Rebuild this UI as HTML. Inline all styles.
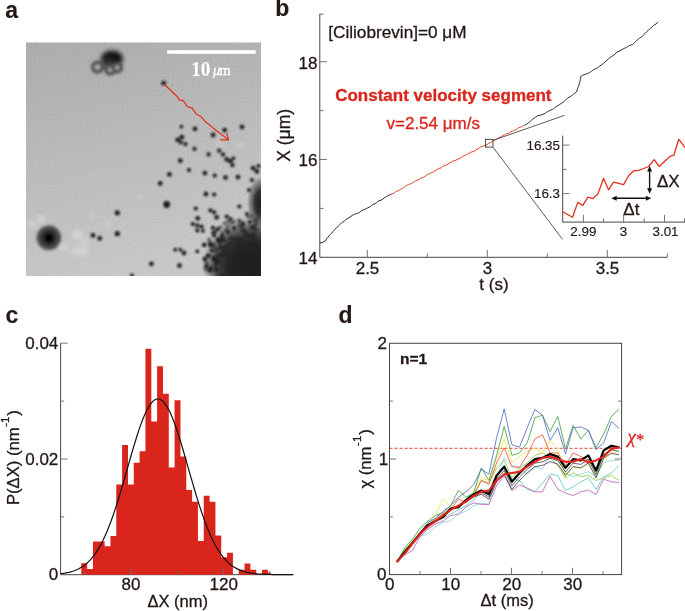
<!DOCTYPE html>
<html><head><meta charset="utf-8"><title>figure</title>
<style>
html,body{margin:0;padding:0;background:#fff;}
body{width:685px;height:611px;overflow:hidden;}
svg{display:block;}
text{font-family:"Liberation Sans",sans-serif;fill:#231815;stroke:#231815;stroke-width:0.3px;}
.b{font-weight:bold;}
.lab{font-size:23px;font-weight:bold;stroke-width:0.15px;}
.tk{font-size:17px;}
.tks{font-size:13.4px;stroke-width:0.15px;}
.ax{stroke:#484443;stroke-width:1;fill:none;}
.tl{stroke:#6a6665;stroke-width:0.9;fill:none;}
.ser{font-family:"Liberation Serif",serif;}
</style></head><body>
<svg width="685" height="611" viewBox="0 0 685 611">
<defs>
<linearGradient id="bg" x1="0" y1="0" x2="0.25" y2="1">
<stop offset="0" stop-color="#acacac"/><stop offset="0.45" stop-color="#b9b9b9"/><stop offset="1" stop-color="#c7c7c7"/>
</linearGradient>
<filter id="bl1" x="-50%" y="-50%" width="200%" height="200%"><feGaussianBlur stdDeviation="0.9"/></filter>
<filter id="bl2" x="-50%" y="-50%" width="200%" height="200%"><feGaussianBlur stdDeviation="2"/></filter>
<filter id="bl3" x="-50%" y="-50%" width="200%" height="200%"><feGaussianBlur stdDeviation="3.5"/></filter>
<filter id="grain" x="0" y="0" width="100%" height="100%"><feTurbulence type="fractalNoise" baseFrequency="0.9" numOctaves="2" seed="3" result="n"/><feColorMatrix type="matrix" values="0 0 0 0 0.5  0 0 0 0 0.5  0 0 0 0 0.5  0.6 0.6 0.6 0 -0.75"/></filter>
<filter id="bl15" x="-50%" y="-50%" width="200%" height="200%"><feGaussianBlur stdDeviation="1.7"/></filter>
<radialGradient id="rg1"><stop offset="0" stop-color="#1c1c1c" stop-opacity="1"/><stop offset="0.45" stop-color="#242424" stop-opacity="1"/><stop offset="0.62" stop-color="#303030" stop-opacity="0.96"/><stop offset="0.78" stop-color="#404040" stop-opacity="0.72"/><stop offset="0.92" stop-color="#505050" stop-opacity="0.25"/><stop offset="1" stop-color="#505050" stop-opacity="0"/></radialGradient>
<radialGradient id="rg2"><stop offset="0" stop-color="#1c1c1c" stop-opacity="1"/><stop offset="0.45" stop-color="#2a2a2a" stop-opacity="0.95"/><stop offset="0.8" stop-color="#444" stop-opacity="0.45"/><stop offset="1" stop-color="#444" stop-opacity="0"/></radialGradient>
<filter id="grain2" x="0" y="0" width="100%" height="100%"><feTurbulence type="fractalNoise" baseFrequency="0.75" numOctaves="1" seed="3" result="n"/><feColorMatrix in="n" type="matrix" values="0.33 0.33 0.33 0 0  0.33 0.33 0.33 0 0  0.33 0.33 0.33 0 0  0 0 0 0 1" result="g"/><feComposite in="SourceGraphic" in2="g" operator="arithmetic" k1="0" k2="1" k3="0.28" k4="-0.14"/></filter>
<clipPath id="ca"><rect x="26" y="42.8" width="234.7" height="232.8"/></clipPath>
<clipPath id="cb"><rect x="319.8" y="10" width="365.2" height="247.5"/></clipPath>
</defs>

<g opacity="0.999">
<text class="lab" x="5.2" y="17.9">a</text>
<g clip-path="url(#ca)"><g>
<rect x="26" y="42.8" width="234.7" height="232.8" fill="url(#bg)" filter="url(#grain2)"/>
<circle cx="250" cy="265" r="48" fill="url(#rg1)"/>
<ellipse cx="261" cy="203" rx="14" ry="27" fill="url(#rg2)"/>
<g filter="url(#bl1)">
<circle cx="252.1" cy="227.9" r="2.1" fill="#242424" opacity="0.75"/>
<circle cx="218.3" cy="261.6" r="2.1" fill="#242424" opacity="0.75"/>
<circle cx="210.7" cy="271.0" r="2.1" fill="#242424" opacity="0.60"/>
<circle cx="253.5" cy="234.0" r="2.1" fill="#242424" opacity="0.75"/>
<circle cx="215.3" cy="231.9" r="2.1" fill="#242424" opacity="0.60"/>
<circle cx="223.3" cy="276.5" r="2.1" fill="#242424" opacity="0.75"/>
<circle cx="257.1" cy="218.6" r="2.1" fill="#242424" opacity="0.60"/>
<circle cx="233.3" cy="238.7" r="2.1" fill="#242424" opacity="0.75"/>
<circle cx="213.4" cy="232.3" r="2.1" fill="#242424" opacity="0.60"/>
<circle cx="208.1" cy="270.7" r="2.1" fill="#242424" opacity="0.60"/>
<circle cx="224.6" cy="223.6" r="2.1" fill="#242424" opacity="0.60"/>
<circle cx="223.4" cy="251.2" r="2.1" fill="#242424" opacity="0.75"/>
<circle cx="240.6" cy="239.1" r="2.1" fill="#242424" opacity="0.75"/>
<circle cx="218.7" cy="239.3" r="2.1" fill="#242424" opacity="0.60"/>
<circle cx="256.1" cy="223.2" r="2.1" fill="#242424" opacity="0.60"/>
<circle cx="221.7" cy="247.2" r="2.1" fill="#242424" opacity="0.75"/>
<circle cx="219.8" cy="242.7" r="2.1" fill="#242424" opacity="0.75"/>
<circle cx="254.2" cy="220.3" r="2.1" fill="#242424" opacity="0.60"/>
<circle cx="214.3" cy="247.2" r="2.1" fill="#242424" opacity="0.60"/>
<circle cx="253.4" cy="238.1" r="2.1" fill="#242424" opacity="0.75"/>
<circle cx="227.9" cy="221.3" r="2.1" fill="#242424" opacity="0.60"/>
<circle cx="228.0" cy="226.7" r="2.1" fill="#242424" opacity="0.60"/>
<circle cx="220.4" cy="247.3" r="2.1" fill="#242424" opacity="0.75"/>
<circle cx="205.5" cy="268.8" r="2.1" fill="#242424" opacity="0.60"/>
<circle cx="240.6" cy="222.1" r="2.1" fill="#242424" opacity="0.60"/>
<circle cx="251.5" cy="216.3" r="2.1" fill="#242424" opacity="0.60"/>
<circle cx="244.6" cy="231.2" r="2.1" fill="#242424" opacity="0.75"/>
<circle cx="209.0" cy="239.7" r="2.1" fill="#242424" opacity="0.60"/>
<circle cx="216.9" cy="270.2" r="2.1" fill="#242424" opacity="0.75"/>
<circle cx="225.6" cy="247.1" r="2.1" fill="#242424" opacity="0.75"/>
<circle cx="246.7" cy="235.6" r="2.1" fill="#242424" opacity="0.75"/>
<circle cx="239.4" cy="240.0" r="2.1" fill="#242424" opacity="0.75"/>
<circle cx="220.0" cy="254.9" r="2.1" fill="#242424" opacity="0.75"/>
<circle cx="214.3" cy="259.5" r="2.1" fill="#242424" opacity="0.75"/>
<circle cx="248.3" cy="217.0" r="2.1" fill="#242424" opacity="0.60"/>
<circle cx="251.7" cy="227.2" r="2.1" fill="#242424" opacity="0.75"/>
<circle cx="242.4" cy="229.4" r="2.1" fill="#242424" opacity="0.75"/>
<circle cx="233.8" cy="221.7" r="2.1" fill="#242424" opacity="0.60"/>
<circle cx="222.0" cy="241.0" r="2.1" fill="#242424" opacity="0.75"/>
<circle cx="206.5" cy="263.2" r="2.1" fill="#242424" opacity="0.60"/>
<circle cx="217.1" cy="262.6" r="2.1" fill="#242424" opacity="0.75"/>
<circle cx="222.1" cy="255.4" r="2.1" fill="#242424" opacity="0.75"/>
<circle cx="204.7" cy="244.5" r="2.1" fill="#242424" opacity="0.60"/>
<circle cx="215.9" cy="264.9" r="2.1" fill="#242424" opacity="0.75"/>
<circle cx="245.1" cy="232.8" r="2.1" fill="#242424" opacity="0.75"/>
<circle cx="210.2" cy="244.3" r="2.1" fill="#242424" opacity="0.60"/>
<circle cx="211.8" cy="245.5" r="2.1" fill="#242424" opacity="0.60"/>
<circle cx="222.6" cy="239.1" r="2.1" fill="#242424" opacity="0.75"/>
<circle cx="213.1" cy="233.2" r="2.1" fill="#242424" opacity="0.60"/>
<circle cx="254.6" cy="226.1" r="2.1" fill="#242424" opacity="0.60"/>
<circle cx="222.6" cy="233.0" r="2.1" fill="#242424" opacity="0.60"/>
<circle cx="204.8" cy="259.2" r="2.1" fill="#242424" opacity="0.60"/>
<circle cx="214.1" cy="244.2" r="2.1" fill="#242424" opacity="0.60"/>
<circle cx="209.8" cy="242.1" r="2.1" fill="#242424" opacity="0.60"/>
<circle cx="211.4" cy="267.4" r="2.1" fill="#242424" opacity="0.60"/>
<circle cx="231.3" cy="222.9" r="2.1" fill="#242424" opacity="0.60"/>
<circle cx="251.8" cy="235.2" r="2.1" fill="#242424" opacity="0.75"/>
<circle cx="209.3" cy="256.6" r="2.1" fill="#242424" opacity="0.60"/>
<circle cx="226.0" cy="230.0" r="2.1" fill="#242424" opacity="0.60"/>
<circle cx="225.7" cy="276.8" r="2.1" fill="#242424" opacity="0.75"/>
<circle cx="218.7" cy="261.9" r="2.1" fill="#242424" opacity="0.75"/>
<circle cx="249.1" cy="235.8" r="2.1" fill="#242424" opacity="0.75"/>
<circle cx="225.5" cy="247.1" r="2.1" fill="#242424" opacity="0.75"/>
<circle cx="236.9" cy="241.6" r="2.1" fill="#242424" opacity="0.75"/>
<circle cx="215.1" cy="260.8" r="2.1" fill="#242424" opacity="0.75"/>
<circle cx="220.6" cy="227.5" r="2.1" fill="#242424" opacity="0.60"/>
<circle cx="255.5" cy="229.7" r="2.1" fill="#242424" opacity="0.75"/>
<circle cx="224.2" cy="240.2" r="2.1" fill="#242424" opacity="0.75"/>
<circle cx="239.1" cy="220.4" r="2.1" fill="#242424" opacity="0.60"/>
<circle cx="225.6" cy="253.7" r="2.1" fill="#242424" opacity="0.75"/>
<circle cx="223.9" cy="275.8" r="2.1" fill="#242424" opacity="0.75"/>
<circle cx="216.3" cy="270.3" r="2.1" fill="#242424" opacity="0.75"/>
<circle cx="223.5" cy="252.2" r="2.1" fill="#242424" opacity="0.75"/>
<circle cx="241.5" cy="226.3" r="2.1" fill="#242424" opacity="0.60"/>
<circle cx="222.9" cy="276.4" r="2.1" fill="#242424" opacity="0.75"/>
<circle cx="216.9" cy="249.9" r="2.1" fill="#242424" opacity="0.75"/>
<circle cx="230.7" cy="238.2" r="2.1" fill="#242424" opacity="0.75"/>
<circle cx="219.5" cy="275.5" r="2.1" fill="#242424" opacity="0.75"/>
<circle cx="217.8" cy="255.3" r="2.1" fill="#242424" opacity="0.75"/>
<circle cx="222.3" cy="239.8" r="2.1" fill="#242424" opacity="0.75"/>
<circle cx="239.3" cy="225.5" r="2.1" fill="#242424" opacity="0.60"/>
<circle cx="217.6" cy="258.6" r="2.1" fill="#242424" opacity="0.75"/>
<circle cx="254.3" cy="226.5" r="2.1" fill="#242424" opacity="0.60"/>
<circle cx="215.6" cy="230.9" r="2.1" fill="#242424" opacity="0.60"/>
<circle cx="229.4" cy="243.6" r="2.1" fill="#242424" opacity="0.75"/>
<circle cx="216.2" cy="268.9" r="2.1" fill="#242424" opacity="0.75"/>
<circle cx="220.4" cy="240.0" r="2.1" fill="#242424" opacity="0.60"/>
<circle cx="215.6" cy="260.7" r="2.1" fill="#242424" opacity="0.75"/>
</g>
<g filter="url(#bl2)">
</g><g filter="url(#bl15)">
<circle cx="48.9" cy="237.8" r="12.2" fill="#484848"/>
<circle cx="48.9" cy="237.8" r="8" fill="#2a2a2a"/>
<circle cx="48.9" cy="238" r="4.5" fill="#050505"/>
</g><g filter="url(#bl2)">
<circle cx="41.7" cy="219.0" r="4.5" fill="#e2e2e2" opacity="0.5"/>
<circle cx="32.0" cy="224.0" r="4.0" fill="#e2e2e2" opacity="0.5"/>
<circle cx="77.0" cy="234.3" r="5.5" fill="#e2e2e2" opacity="0.5"/>
<circle cx="75.4" cy="251.2" r="4.5" fill="#e2e2e2" opacity="0.5"/>
<circle cx="83.4" cy="251.2" r="4.5" fill="#e2e2e2" opacity="0.5"/>
<circle cx="64.0" cy="247.0" r="4.0" fill="#e2e2e2" opacity="0.5"/>
<circle cx="84.0" cy="242.0" r="4.0" fill="#e2e2e2" opacity="0.5"/>
<circle cx="91.7" cy="215.8" r="2.5" fill="#e2e2e2" opacity="0.5"/>
<circle cx="108.0" cy="224.6" r="3.0" fill="#e2e2e2" opacity="0.5"/>
<circle cx="140.0" cy="197.0" r="2.5" fill="#e2e2e2" opacity="0.5"/>
<circle cx="240.5" cy="146.0" r="2.8" fill="#e2e2e2" opacity="0.5"/>
<circle cx="219.0" cy="144.5" r="2.5" fill="#e2e2e2" opacity="0.5"/>
</g>
<g filter="url(#bl2)">
<ellipse cx="112" cy="58.6" rx="11" ry="8" fill="#161616"/>
<ellipse cx="107" cy="64" rx="9" ry="5" fill="#3a3a3a" opacity="0.7"/>
</g>
<g filter="url(#bl15)">
<circle cx="97.5" cy="67.1" r="4.6" fill="#b0b0b0" stroke="#484848" stroke-width="3.6"/>
<circle cx="110.2" cy="69.8" r="4.0" fill="#b0b0b0" stroke="#484848" stroke-width="3.6"/>
<circle cx="117.2" cy="67.6" r="4.0" fill="#b0b0b0" stroke="#484848" stroke-width="3.6"/>
</g>
<g filter="url(#bl1)">
<circle cx="163.6" cy="83.2" r="2.4" fill="#161616" opacity="0.95"/>
<circle cx="181.4" cy="126.6" r="1.9" fill="#161616" opacity="0.95"/>
<circle cx="195.0" cy="128.8" r="2.4" fill="#161616" opacity="0.95"/>
<circle cx="213.1" cy="135.0" r="2.4" fill="#161616" opacity="0.95"/>
<circle cx="224.7" cy="130.1" r="2.4" fill="#161616" opacity="0.95"/>
<circle cx="242.0" cy="126.9" r="2.4" fill="#161616" opacity="0.95"/>
<circle cx="181.8" cy="137.2" r="2.4" fill="#161616" opacity="0.95"/>
<circle cx="177.7" cy="139.8" r="2.4" fill="#161616" opacity="0.95"/>
<circle cx="180.9" cy="142.3" r="2.1" fill="#161616" opacity="0.95"/>
<circle cx="185.5" cy="144.0" r="2.1" fill="#161616" opacity="0.95"/>
<circle cx="194.5" cy="148.8" r="2.1" fill="#161616" opacity="0.95"/>
<circle cx="208.6" cy="154.4" r="2.1" fill="#161616" opacity="0.95"/>
<circle cx="180.3" cy="160.7" r="2.4" fill="#161616" opacity="0.95"/>
<circle cx="219.2" cy="150.7" r="2.1" fill="#161616" opacity="0.95"/>
<circle cx="223.0" cy="154.4" r="2.1" fill="#161616" opacity="0.95"/>
<circle cx="226.7" cy="159.4" r="2.4" fill="#161616" opacity="0.95"/>
<circle cx="230.5" cy="161.2" r="2.4" fill="#161616" opacity="0.95"/>
<circle cx="232.5" cy="165.2" r="2.1" fill="#161616" opacity="0.95"/>
<circle cx="233.5" cy="158.2" r="1.9" fill="#161616" opacity="0.95"/>
<circle cx="253.1" cy="168.2" r="2.4" fill="#161616" opacity="0.95"/>
<circle cx="256.9" cy="171.4" r="2.4" fill="#161616" opacity="0.95"/>
<circle cx="258.5" cy="166.0" r="2.1" fill="#161616" opacity="0.95"/>
<circle cx="189.0" cy="170.1" r="2.1" fill="#161616" opacity="0.95"/>
<circle cx="169.4" cy="174.4" r="2.4" fill="#161616" opacity="0.95"/>
<circle cx="160.2" cy="183.4" r="2.4" fill="#161616" opacity="0.95"/>
<circle cx="204.9" cy="173.1" r="2.4" fill="#161616" opacity="0.95"/>
<circle cx="214.7" cy="175.6" r="2.1" fill="#161616" opacity="0.95"/>
<circle cx="225.5" cy="177.6" r="2.4" fill="#161616" opacity="0.95"/>
<circle cx="238.0" cy="177.1" r="2.4" fill="#161616" opacity="0.95"/>
<circle cx="205.9" cy="194.0" r="2.4" fill="#161616" opacity="0.95"/>
<circle cx="214.2" cy="194.5" r="2.1" fill="#161616" opacity="0.95"/>
<circle cx="166.7" cy="204.5" r="3.4" fill="#161616" opacity="0.95"/>
<circle cx="195.8" cy="208.5" r="2.1" fill="#161616" opacity="0.95"/>
<circle cx="210.4" cy="210.3" r="2.1" fill="#161616" opacity="0.95"/>
<circle cx="214.2" cy="212.3" r="2.1" fill="#161616" opacity="0.95"/>
<circle cx="216.7" cy="217.3" r="2.4" fill="#161616" opacity="0.95"/>
<circle cx="197.8" cy="218.3" r="2.4" fill="#161616" opacity="0.95"/>
<circle cx="226.7" cy="216.6" r="2.1" fill="#161616" opacity="0.95"/>
<circle cx="230.5" cy="219.1" r="2.1" fill="#161616" opacity="0.95"/>
<circle cx="192.8" cy="224.1" r="2.1" fill="#161616" opacity="0.95"/>
<circle cx="197.3" cy="225.4" r="2.1" fill="#161616" opacity="0.95"/>
<circle cx="201.6" cy="226.6" r="2.1" fill="#161616" opacity="0.95"/>
<circle cx="197.3" cy="230.4" r="2.1" fill="#161616" opacity="0.95"/>
<circle cx="202.9" cy="230.9" r="1.9" fill="#161616" opacity="0.95"/>
<circle cx="212.9" cy="227.9" r="2.1" fill="#161616" opacity="0.95"/>
<circle cx="217.9" cy="229.1" r="2.1" fill="#161616" opacity="0.95"/>
<circle cx="239.3" cy="206.5" r="2.1" fill="#161616" opacity="0.95"/>
<circle cx="214.2" cy="235.4" r="2.1" fill="#161616" opacity="0.95"/>
<circle cx="204.1" cy="245.0" r="2.1" fill="#161616" opacity="0.95"/>
<circle cx="175.2" cy="249.7" r="1.9" fill="#161616" opacity="0.95"/>
<circle cx="180.3" cy="249.7" r="1.9" fill="#161616" opacity="0.95"/>
<circle cx="184.0" cy="253.0" r="2.4" fill="#161616" opacity="0.95"/>
<circle cx="197.3" cy="251.3" r="1.9" fill="#161616" opacity="0.95"/>
<circle cx="151.4" cy="263.8" r="2.4" fill="#161616" opacity="0.95"/>
<circle cx="179.5" cy="265.6" r="2.4" fill="#161616" opacity="0.95"/>
<circle cx="206.6" cy="266.1" r="2.1" fill="#161616" opacity="0.95"/>
<circle cx="210.4" cy="269.3" r="2.1" fill="#161616" opacity="0.95"/>
<circle cx="117.3" cy="212.8" r="2.6" fill="#161616" opacity="0.95"/>
<circle cx="117.3" cy="233.7" r="2.6" fill="#161616" opacity="0.95"/>
<circle cx="93.0" cy="235.4" r="2.4" fill="#161616" opacity="0.95"/>
<circle cx="99.7" cy="238.4" r="2.4" fill="#161616" opacity="0.95"/>
<circle cx="131.9" cy="275.5" r="2.1" fill="#161616" opacity="0.95"/>
<circle cx="210.5" cy="245.0" r="2.1" fill="#161616" opacity="0.95"/>
<circle cx="212.0" cy="250.5" r="2.1" fill="#161616" opacity="0.95"/>
<circle cx="208.0" cy="255.5" r="2.1" fill="#161616" opacity="0.95"/>
<circle cx="205.0" cy="259.0" r="2.1" fill="#161616" opacity="0.95"/>
<circle cx="214.0" cy="258.0" r="2.1" fill="#161616" opacity="0.95"/>
<circle cx="218.0" cy="240.0" r="2.1" fill="#161616" opacity="0.95"/>
<circle cx="222.0" cy="236.0" r="2.1" fill="#161616" opacity="0.95"/>
<circle cx="228.0" cy="232.0" r="2.1" fill="#161616" opacity="0.95"/>
<circle cx="234.0" cy="228.0" r="2.1" fill="#161616" opacity="0.95"/>
<circle cx="243.0" cy="224.0" r="2.1" fill="#161616" opacity="0.95"/>
<circle cx="250.0" cy="222.0" r="2.1" fill="#161616" opacity="0.95"/>
<circle cx="249.0" cy="190.0" r="2.1" fill="#161616" opacity="0.95"/>
<circle cx="247.0" cy="214.0" r="2.1" fill="#161616" opacity="0.95"/>
<circle cx="252.0" cy="180.0" r="2.1" fill="#161616" opacity="0.95"/>
</g>
</g>
<rect x="167.2" y="50.2" width="88.4" height="3.6" fill="#fff"/>
<text class="ser" transform="translate(191.2,75.8) scale(0.88,1)" style="fill:#fff;stroke:none;font-size:21.8px;font-weight:bold">10</text>
<text class="ser" x="213" y="74.9" style="fill:#fff;stroke:#fff;font-size:14.5px;font-style:italic">μ</text><text class="ser" x="219.2" y="74.9" style="fill:#fff;stroke:#fff;font-size:14.6px">m</text>
<path d="M164.2 84.2 L177.7 97 L179.2 99.9 L183.3 100.7 L187.2 106.5 L192.3 108.2 L196 113.8 L201.1 116.7 L205.5 121.8 L212.8 127.7 L228.1 139.4" fill="none" stroke="#e0301f" stroke-width="1.3" stroke-linejoin="round"/>
<path d="M220.1 139.8 L228.5 139.8 L226.6 133.1" fill="none" stroke="#e0301f" stroke-width="1.3"/>
</g>
<text class="lab" x="275.3" y="15.7">b</text>
<path class="ax" d="M319.8 13.8 V257.3 H667.3"/>
<path class="tl" d="M319.8 208.4 h3.8"/>
<path class="tl" d="M319.8 159.5 h7.0"/>
<path class="tl" d="M319.8 110.6 h3.8"/>
<path class="tl" d="M319.8 61.7 h7.0"/>
<path class="tl" d="M319.8 14.2 h3.8"/>
<path class="tl" d="M367.3 257.3 v-7.3"/>
<path class="tl" d="M427.3 257.3 v-4.0"/>
<path class="tl" d="M487.3 257.3 v-7.3"/>
<path class="tl" d="M547.3 257.3 v-4.0"/>
<path class="tl" d="M607.3 257.3 v-7.3"/>
<path class="tl" d="M667.3 257.3 v-4.0"/>
<text class="tk" x="317.4" y="263.8" text-anchor="end">14</text>
<text class="tk" x="317.4" y="166.2" text-anchor="end">16</text>
<text class="tk" x="317.4" y="68.6" text-anchor="end">18</text>
<text class="tk" x="367.5" y="273.5" text-anchor="middle">2.5</text>
<text class="tk" x="487.5" y="273.5" text-anchor="middle">3</text>
<text class="tk" x="607.5" y="273.5" text-anchor="middle">3.5</text>
<text x="494" y="289.7" text-anchor="middle" style="font-size:17px">t (s)</text>
<text transform="translate(289.8,161.8) rotate(-90)" style="font-size:17.5px">X (μm)</text>
<text x="328.2" y="37.7" style="font-size:17.2px">[Ciliobrevin]=0 μM</text>
<text class="b" x="335.2" y="101" style="fill:#da251d;stroke:#da251d;font-size:17px">Constant velocity segment</text>
<text x="386.5" y="128.8" style="fill:#da251d;stroke:#da251d;font-size:17px">v=2.54 μm/s</text>
<path d="M319.8 243.0 L322.0 242.6 L325.3 241.0 L326.6 238.9 L328.0 237.2 L329.7 234.9 L331.3 233.6 L333.0 231.5 L334.9 229.2 L336.7 227.8 L338.5 225.8 L340.4 224.1 L342.3 222.2 L344.2 221.3 L346.2 219.3 L348.1 218.3 L350.0 217.0 L352.2 215.4 L354.4 214.3 L356.6 213.5 L358.9 212.8 L361.1 210.9 L363.3 209.8 L365.5 209.0 L367.6 207.9 L369.6 207.1 L371.7 205.4 L373.8 204.0 L375.9 203.5 L377.9 201.2 L380.0 200.5 L382.0 199.8 L384.0 198.1 L385.9 196.9 L387.9 195.7 L389.9 194.9 L391.9 194.0" fill="none" stroke="#1a1a1a" stroke-width="0.9" stroke-linejoin="round"/>
<path d="M391.9 194.0 L393.9 193.3 L395.8 191.5 L397.8 190.9 L399.7 189.9 L401.7 188.6 L403.7 187.7 L405.6 186.1 L407.6 185.0 L409.5 184.1 L411.5 183.6 L413.5 182.3 L415.4 181.1 L417.4 180.3 L419.4 179.1 L421.3 177.9 L423.3 177.3 L425.2 176.2 L427.2 174.6 L429.2 173.9 L431.1 172.8 L433.1 172.1 L435.0 170.9 L437.0 169.6 L439.0 168.3 L441.0 168.1 L443.0 166.1 L445.0 165.4 L447.0 164.8 L449.0 163.1 L451.0 162.5 L453.0 160.9 L455.0 160.6 L457.0 159.7 L459.0 158.5 L461.0 157.8 L462.9 156.1 L464.9 155.5 L466.9 154.4 L468.9 153.4 L470.9 152.2 L472.9 151.6 L474.9 150.7 L476.9 149.2 L478.9 148.4 L480.9 146.7 L482.9 146.4 L484.9 145.3 L486.9 144.7 L488.9 143.1 L490.9 142.5 L492.9 140.9 L494.8 140.0 L496.8 139.3 L498.8 137.6 L500.8 137.1 L502.7 135.8 L504.7 134.8 L506.7 133.7 L508.7 133.5 L510.7 131.8 L512.6 131.0 L514.6 130.1 L516.6 129.7 L518.6 127.8 L520.5 127.2 L522.5 126.3 L524.5 125.3" fill="none" stroke="#e0301f" stroke-width="0.9" stroke-linejoin="round"/>
<path d="M524.5 125.3 L526.4 124.4 L528.3 122.9 L530.2 121.6 L532.0 119.6 L533.9 118.3 L535.8 116.9 L537.7 115.7 L540.3 115.2 L542.9 114.4 L545.5 113.0 L547.8 111.4 L550.2 110.3 L552.5 109.5 L554.7 107.7 L556.9 106.2 L559.1 104.9 L561.3 103.4 L563.5 101.9 L565.6 99.9 L567.8 98.0 L570.0 96.9 L572.2 95.2 L574.3 93.5 L576.5 92.0 L577.2 89.9 L577.9 87.7 L578.8 85.5 L579.7 82.4 L580.3 79.6 L580.9 76.3 L583.2 75.0 L585.4 74.3 L587.6 73.6 L589.5 72.6 L591.5 71.4 L593.5 69.6 L595.4 68.9 L597.3 67.9 L599.3 66.4 L601.2 65.1 L603.2 63.6 L605.1 61.9 L606.9 60.3 L608.6 58.9 L610.4 57.1 L612.1 56.1 L614.1 54.9 L616.0 53.0 L618.0 51.7 L620.0 50.9 L622.1 49.5 L624.3 48.4 L626.4 47.5 L628.5 46.1 L630.7 45.0 L632.8 44.5 L634.5 42.5 L636.3 40.9 L638.0 39.6 L639.8 37.7 L641.5 37.1 L643.3 35.2 L645.0 33.5 L646.8 31.5 L648.7 29.9 L650.5 28.4 L652.4 26.8 L654.2 24.9 L656.1 24.0 L657.9 22.0" fill="none" stroke="#1a1a1a" stroke-width="0.9" stroke-linejoin="round"/>
<rect x="485.4" y="139.3" width="7.6" height="7.8" fill="none" stroke="#222" stroke-width="0.8"/>
<path d="M493 140.4 L564.6 115.3 M493 147.2 L562.5 239.3" fill="none" stroke="#333" stroke-width="0.8"/>
<path class="ax" d="M562.7 135.6 V222.1 H685"/>
<path class="tl" d="M562.7 145.1 h6.8"/>
<path class="tl" d="M562.7 169.4 h3.8"/>
<path class="tl" d="M562.7 193.6 h6.8"/>
<path class="tl" d="M583.4 222.1 v-7.3"/>
<path class="tl" d="M603.5 222.1 v-3.8"/>
<path class="tl" d="M623.6 222.1 v-7.3"/>
<path class="tl" d="M644.2 222.1 v-3.8"/>
<path class="tl" d="M664.5 222.1 v-7.3"/>
<path class="tl" d="M684.6 222.1 v-3.8"/>
<text class="tks" x="560" y="149.7" text-anchor="end">16.35</text>
<text class="tks" x="560" y="198.1" text-anchor="end">16.3</text>
<text class="tks" x="583.4" y="235.7" text-anchor="middle">2.99</text>
<text class="tks" x="623.6" y="235.7" text-anchor="middle">3</text>
<text class="tks" x="665.5" y="235.7" text-anchor="middle">3.01</text>
<path d="M562.7 211.7 L572.5 217.2 L577.8 202.4 L582.8 205.4 L587.9 197.1 L592.9 198.6 L597.9 194.1 L603.5 178.3 L608.5 189.8 L613.5 182.1 L618.5 183.3 L623.6 184.6 L628.6 175.8 L633.6 170.8 L638.6 170.3 L643.7 168.5 L648.7 166.5 L654.2 159.7 L659.2 166.5 L664.5 161.5 L670.0 156.4 L673.8 155.2 L678.8 139.3 L685.1 147.6" fill="none" stroke="#e0301f" stroke-width="1.3" stroke-linejoin="round"/>
<path d="M649.6 169.0 L649.6 190.7" stroke="#111" stroke-width="1.4" fill="none"/><path d="M649.6 166.0 L647.1 171.4 L652.1 171.4 Z" fill="#111"/><path d="M649.6 193.7 L647.1 188.3 L652.1 188.3 Z" fill="#111"/>
<path d="M614.3 198.2 L648.3 198.2" stroke="#111" stroke-width="1.4" fill="none"/><path d="M611.3 198.2 L616.7 200.7 L616.7 195.7 Z" fill="#111"/><path d="M651.3 198.2 L645.9 200.7 L645.9 195.7 Z" fill="#111"/>
<text class="tk" x="657" y="186.7">ΔX</text>
<text class="tk" x="623.3" y="215">Δt</text>
<text class="lab" x="5.6" y="323.1">c</text>
<path class="ax" d="M60.6 343.2 V574.7 H293.8"/>
<path class="tl" d="M60.6 343.2 h7.0"/>
<path class="tl" d="M60.6 401.1 h3.6"/>
<path class="tl" d="M60.6 459.0 h7.0"/>
<path class="tl" d="M60.6 516.9 h3.6"/>
<path d="M81.30 574.7 V563.2 H87.18 V574.7 ZM87.13 574.7 V569.1 H93.01 V574.7 ZM92.96 574.7 V541.5 H98.84 V574.7 ZM98.79 574.7 V541.5 H104.67 V574.7 ZM104.62 574.7 V546.2 H110.50 V574.7 ZM110.45 574.7 V536.0 H116.33 V574.7 ZM116.28 574.7 V484.5 H122.16 V574.7 ZM122.11 574.7 V444.9 H127.99 V574.7 ZM127.94 574.7 V484.5 H133.82 V574.7 ZM133.77 574.7 V462.8 H139.65 V574.7 ZM139.60 574.7 V451.3 H145.48 V574.7 ZM145.43 574.7 V348.8 H151.31 V574.7 ZM151.26 574.7 V421.5 H157.14 V574.7 ZM157.09 574.7 V366.2 H162.97 V574.7 ZM162.92 574.7 V393.8 H168.80 V574.7 ZM168.75 574.7 V467.4 H174.63 V574.7 ZM174.58 574.7 V400.2 H180.46 V574.7 ZM180.41 574.7 V456.4 H186.29 V574.7 ZM186.24 574.7 V489.9 H192.12 V574.7 ZM192.07 574.7 V501.8 H197.95 V574.7 ZM197.90 574.7 V541.0 H203.78 V574.7 ZM203.73 574.7 V495.8 H209.61 V574.7 ZM209.56 574.7 V501.8 H215.44 V574.7 ZM215.39 574.7 V535.4 H221.27 V574.7 ZM221.22 574.7 V557.3 H227.10 V574.7 ZM227.05 574.7 V552.7 H232.93 V574.7 ZM238.71 574.7 V569.8 H244.59 V574.7 ZM244.54 574.7 V563.5 H250.42 V574.7 ZM250.37 574.7 V569.8 H256.25 V574.7 ZM262.03 574.7 V569.8 H267.91 V574.7 ZM267.86 574.7 V572.7 H270.86 V574.7 Z" fill="#da251d"/>
<path class="tl" d="M84.6 574.7 v-3.6"/>
<path class="tl" d="M130.9 574.7 v-7.3"/>
<path class="tl" d="M177.2 574.7 v-3.6"/>
<path class="tl" d="M223.5 574.7 v-7.3"/>
<path class="tl" d="M269.8 574.7 v-3.6"/>
<path d="M60.8 573.6 L62.8 573.4 L64.8 573.1 L66.8 572.7 L68.8 572.3 L70.8 571.8 L72.8 571.2 L74.8 570.5 L76.8 569.7 L78.8 568.7 L80.8 567.6 L82.8 566.4 L84.8 564.9 L86.8 563.3 L88.8 561.4 L90.8 559.3 L92.8 556.9 L94.8 554.3 L96.8 551.4 L98.8 548.1 L100.8 544.6 L102.8 540.7 L104.8 536.5 L106.8 531.9 L108.8 527.0 L110.8 521.8 L112.8 516.2 L114.8 510.4 L116.8 504.2 L118.8 497.8 L120.8 491.2 L122.8 484.4 L124.8 477.5 L126.8 470.5 L128.8 463.5 L130.8 456.5 L132.8 449.7 L134.8 443.0 L136.8 436.5 L138.8 430.4 L140.8 424.6 L142.8 419.3 L144.8 414.5 L146.8 410.2 L148.8 406.6 L150.8 403.6 L152.8 401.4 L154.8 399.8 L156.8 399.0 L158.8 399.0 L160.8 399.7 L162.8 401.2 L164.8 403.4 L166.8 406.3 L168.8 409.8 L170.8 414.0 L172.8 418.8 L174.8 424.1 L176.8 429.8 L178.8 435.9 L180.8 442.3 L182.8 449.0 L184.8 455.9 L186.8 462.8 L188.8 469.8 L190.8 476.8 L192.8 483.7 L194.8 490.5 L196.8 497.2 L198.8 503.6 L200.8 509.7 L202.8 515.6 L204.8 521.2 L206.8 526.5 L208.8 531.4 L210.8 536.0 L212.8 540.3 L214.8 544.2 L216.8 547.8 L218.8 551.1 L220.8 554.0 L222.8 556.7 L224.8 559.1 L226.8 561.2 L228.8 563.1 L230.8 564.8 L232.8 566.3 L234.8 567.5 L236.8 568.6 L238.8 569.6 L240.8 570.4 L242.8 571.1 L244.8 571.7 L246.8 572.3 L248.8 572.7 L250.8 573.1 L252.8 573.4 L254.8 573.6 L256.8 573.8 L258.8 574.0 L260.8 574.1 L262.8 574.2 L264.8 574.3 L266.8 574.4 L268.8 574.5 L270.8 574.5 L272.8 574.6 L274.8 574.6 L276.8 574.6 L278.8 574.6 L280.8 574.7 L282.8 574.7 L284.8 574.7 L286.8 574.7 L288.8 574.7 L290.8 574.7 L292.8 574.7" fill="none" stroke="#111" stroke-width="1.2"/>
<text class="tk" x="58.3" y="349" text-anchor="end">0.04</text>
<text class="tk" x="58.3" y="464.6" text-anchor="end">0.02</text>
<text class="tk" x="58.3" y="580" text-anchor="end">0</text>
<text class="tk" x="131" y="589.9" text-anchor="middle">80</text>
<text class="tk" x="223.8" y="589.9" text-anchor="middle">120</text>
<text x="147.5" y="607.3" style="font-size:16.5px">ΔX (nm)</text>
<text transform="translate(19,505) rotate(-90)" style="font-size:16.6px">P(ΔX) (nm<tspan dy="-10" dx="0.8" style="font-size:11.5px">-1</tspan><tspan dy="10" dx="0.8">)</tspan></text>
<text class="lab" x="338.6" y="323.2">d</text>
<rect class="ax" x="389.5" y="343.3" width="232.1" height="231.3"/>
<path class="tl" d="M389.5 401.1 h3.4 M621.6 401.1 h-3.4"/>
<path class="tl" d="M389.5 459.0 h6.8 M621.6 459.0 h-6.8"/>
<path class="tl" d="M389.5 516.9 h3.4 M621.6 516.9 h-3.4"/>
<path class="tl" d="M420.0 574.6 v-3.5"/>
<path class="tl" d="M450.5 574.6 v-6.8"/>
<path class="tl" d="M481.0 574.6 v-3.5"/>
<path class="tl" d="M511.5 574.6 v-6.8"/>
<path class="tl" d="M542.0 574.6 v-3.5"/>
<path class="tl" d="M572.5 574.6 v-6.8"/>
<path class="tl" d="M603.0 574.6 v-3.5"/>
<text class="tk" x="387" y="349" text-anchor="end">2</text>
<text class="tk" x="388.2" y="464.6" text-anchor="end">1</text>
<text class="tk" x="386.5" y="580" text-anchor="end">0</text>
<text class="tk" x="389.8" y="589.9" text-anchor="middle">0</text>
<text class="tk" x="450.8" y="589.9" text-anchor="middle">10</text>
<text class="tk" x="511.8" y="589.9" text-anchor="middle">20</text>
<text class="tk" x="572.8" y="589.9" text-anchor="middle">30</text>
<text x="480.5" y="606.3" style="font-size:16.5px">Δt (ms)</text>
<text transform="translate(371.4,488.6) rotate(-90)" style="font-size:16.6px">χ (nm<tspan dy="-10" dx="0.8" style="font-size:11.5px">-1</tspan><tspan dy="10" dx="0.8">)</tspan></text>
<text class="b" x="400" y="364" style="font-size:15.5px">n=1</text>
<path d="M389.5 448.3 H621.6" stroke="#e0301f" stroke-width="0.9" stroke-dasharray="3 2" fill="none"/>
<text class="ser" x="627.6" y="443" style="fill:#da251d;stroke:#da251d;font-size:19px;font-style:italic">χ<tspan dy="2.1" dx="0.2" style="font-style:normal;font-size:16px">*</tspan></text>
<path d="M397.1 561.6 L404.8 554.7 L412.4 544.9 L420.1 536.5 L427.8 533.7 L435.4 526.7 L443.1 522.5 L450.7 521.1 L458.4 514.1 L466.0 511.3 L473.6 505.7 L481.3 503.1 L488.9 504.4 L496.6 478.0 L504.2 457.9 L511.9 465.4 L519.5 467.9 L527.2 474.2 L534.9 466.7 L542.5 469.2 L550.1 455.4 L557.8 457.9 L565.5 473.0 L573.1 476.7 L580.8 474.2 L588.4 471.7 L596.0 476.7 L603.7 462.9 L611.4 460.4 L619.0 460.4" fill="none" stroke="#7fd4e0" stroke-width="0.8" stroke-linejoin="round"/>
<path d="M397.1 561.6 L404.8 553.3 L412.4 543.5 L420.1 532.3 L427.8 526.7 L435.4 521.1 L443.1 518.3 L450.7 514.1 L458.4 509.9 L466.0 505.7 L473.6 500.1 L481.3 490.6 L488.9 493.1 L496.6 475.5 L504.2 465.4 L511.9 479.2 L519.5 480.5 L527.2 489.3 L534.9 491.8 L542.5 483.0 L550.1 474.2 L557.8 475.5 L565.5 490.6 L573.1 486.8 L580.8 481.8 L588.4 478.0 L596.0 489.3 L603.7 476.7 L611.4 473.0 L619.0 465.4" fill="none" stroke="#55c4bc" stroke-width="0.8" stroke-linejoin="round"/>
<path d="M397.1 561.6 L404.8 554.7 L412.4 550.5 L420.1 536.5 L427.8 529.5 L435.4 523.9 L443.1 521.1 L450.7 515.5 L458.4 514.1 L466.0 507.1 L473.6 502.9 L481.3 504.4 L488.9 504.4 L496.6 485.5 L504.2 475.5 L511.9 490.6 L519.5 485.0 L527.2 488.0 L534.9 491.8 L542.5 491.8 L550.1 476.2 L557.8 489.3 L565.5 493.1 L573.1 495.6 L580.8 491.8 L588.4 490.1 L596.0 494.3 L603.7 479.2 L611.4 481.8 L619.0 482.5" fill="none" stroke="#b85ab8" stroke-width="0.8" stroke-linejoin="round"/>
<path d="M397.1 561.6 L404.8 549.1 L412.4 542.1 L420.1 533.7 L427.8 525.3 L435.4 518.3 L443.1 514.1 L450.7 508.5 L458.4 505.7 L466.0 501.5 L473.6 494.5 L481.3 480.5 L488.9 483.0 L496.6 467.9 L504.2 460.4 L511.9 478.0 L519.5 467.9 L527.2 462.9 L534.9 455.4 L542.5 452.9 L550.1 457.9 L557.8 465.4 L565.5 478.0 L573.1 473.0 L580.8 476.7 L588.4 475.5 L596.0 480.5 L603.7 478.0 L611.4 475.5 L619.0 480.5" fill="none" stroke="#8cc63f" stroke-width="0.8" stroke-linejoin="round"/>
<path d="M397.1 561.6 L404.8 550.5 L412.4 540.7 L420.1 532.3 L427.8 523.9 L435.4 515.5 L443.1 498.7 L450.7 507.1 L458.4 505.7 L466.0 500.1 L473.6 490.3 L481.3 478.0 L488.9 480.5 L496.6 457.9 L504.2 439.0 L511.9 462.9 L519.5 456.6 L527.2 451.6 L534.9 447.8 L542.5 452.9 L550.1 440.3 L557.8 450.4 L565.5 476.7 L573.1 466.7 L580.8 467.9 L588.4 464.2 L596.0 475.5 L603.7 460.4 L611.4 452.9 L619.0 451.6" fill="none" stroke="#ece84a" stroke-width="0.8" stroke-linejoin="round"/>
<path d="M397.1 561.6 L404.8 551.9 L412.4 542.1 L420.1 533.7 L427.8 525.3 L435.4 519.7 L443.1 514.1 L450.7 509.9 L458.4 498.7 L466.0 502.9 L473.6 495.9 L481.3 480.5 L488.9 484.3 L496.6 462.9 L504.2 447.8 L511.9 466.7 L519.5 467.4 L527.2 455.4 L534.9 439.0 L542.5 434.8 L550.1 452.9 L557.8 452.9 L565.5 465.4 L573.1 452.9 L580.8 456.6 L588.4 460.4 L596.0 469.2 L603.7 455.4 L611.4 447.8 L619.0 447.8" fill="none" stroke="#ee4b2a" stroke-width="0.8" stroke-linejoin="round"/>
<path d="M397.1 561.6 L404.8 547.7 L412.4 539.3 L420.1 528.1 L427.8 521.1 L435.4 515.5 L443.1 512.7 L450.7 505.7 L458.4 490.3 L466.0 497.3 L473.6 493.1 L481.3 467.9 L488.9 480.5 L496.6 455.4 L504.2 426.5 L511.9 455.4 L519.5 452.9 L527.2 442.8 L534.9 417.7 L542.5 415.2 L550.1 431.5 L557.8 416.4 L565.5 449.1 L573.1 425.2 L580.8 439.0 L588.4 430.3 L596.0 447.8 L603.7 434.0 L611.4 416.4 L619.0 409.4" fill="none" stroke="#3a9a3a" stroke-width="0.8" stroke-linejoin="round"/>
<path d="M397.1 561.6 L404.8 551.9 L412.4 542.1 L420.1 532.3 L427.8 522.5 L435.4 518.3 L443.1 511.3 L450.7 505.7 L458.4 497.3 L466.0 491.7 L473.6 484.7 L481.3 469.2 L488.9 474.2 L496.6 437.8 L504.2 408.9 L511.9 444.8 L519.5 447.1 L527.2 427.7 L534.9 409.4 L542.5 415.2 L550.1 440.3 L557.8 427.7 L565.5 454.1 L573.1 427.7 L580.8 427.0 L588.4 430.3 L596.0 449.6 L603.7 442.8 L611.4 421.5 L619.0 428.2" fill="none" stroke="#4a62c4" stroke-width="0.8" stroke-linejoin="round"/>
<path d="M397.1 561.6 L404.8 551.9 L412.4 542.9 L420.1 533.7 L427.8 525.3 L435.4 521.1 L443.1 516.9 L450.7 508.5 L458.4 507.1 L466.0 500.8 L473.6 495.9 L481.3 492.6 L488.9 497.0 L496.6 478.8 L504.2 470.7 L511.9 485.8 L519.5 477.0 L527.2 469.4 L534.9 463.1 L542.5 461.9 L550.1 458.1 L557.8 460.6 L565.5 471.9 L573.1 463.1 L580.8 464.4 L588.4 459.4 L596.0 474.5 L603.7 454.4 L611.4 449.8 L619.0 451.3" fill="none" stroke="#222" stroke-width="0.7" stroke-linejoin="round"/>
<path d="M397.1 561.6 L404.8 551.9 L412.4 542.9 L420.1 533.7 L427.8 525.3 L435.4 521.1 L443.1 516.9 L450.7 508.5 L458.4 507.1 L466.0 501.4 L473.6 497.0 L481.3 494.3 L488.9 499.3 L496.6 481.7 L504.2 474.2 L511.9 489.3 L519.5 480.5 L527.2 472.9 L534.9 466.6 L542.5 465.4 L550.1 461.6 L557.8 464.1 L565.5 475.4 L573.1 466.6 L580.8 467.9 L588.4 462.9 L596.0 478.0 L603.7 457.9 L611.4 453.3 L619.0 454.8" fill="none" stroke="#222" stroke-width="0.7" stroke-linejoin="round"/>
<path d="M397.1 561.6 L404.8 551.9 L412.4 542.9 L420.1 533.7 L427.8 525.3 L435.4 521.1 L443.1 516.9 L450.7 508.5 L458.4 507.1 L466.0 500.1 L473.6 494.5 L481.3 490.6 L488.9 494.3 L496.6 475.5 L504.2 466.7 L511.9 481.8 L519.5 473.0 L527.2 465.4 L534.9 459.1 L542.5 457.9 L550.1 454.1 L557.8 456.6 L565.5 467.9 L573.1 459.1 L580.8 460.4 L588.4 455.4 L596.0 470.5 L603.7 450.4 L611.4 445.8 L619.0 447.3" fill="none" stroke="#000" stroke-width="2.2" stroke-linejoin="round"/>
<path d="M397.1 561.6 L404.8 553.3 L412.4 543.5 L420.1 533.7 L427.8 526.7 L435.4 521.1 L443.1 515.5 L450.7 509.9 L458.4 505.7 L466.0 501.5 L473.6 495.9 L481.3 491.8 L488.9 490.6 L496.6 480.5 L504.2 474.2 L511.9 473.0 L519.5 471.7 L527.2 466.7 L534.9 461.7 L542.5 457.9 L550.1 456.6 L557.8 459.1 L565.5 461.7 L573.1 461.7 L580.8 459.1 L588.4 462.4 L596.0 460.4 L603.7 456.6 L611.4 449.1 L619.0 447.3" fill="none" stroke="#e1241c" stroke-width="2.1" stroke-linejoin="round" stroke-linecap="round"/>
</g>
</svg></body></html>
